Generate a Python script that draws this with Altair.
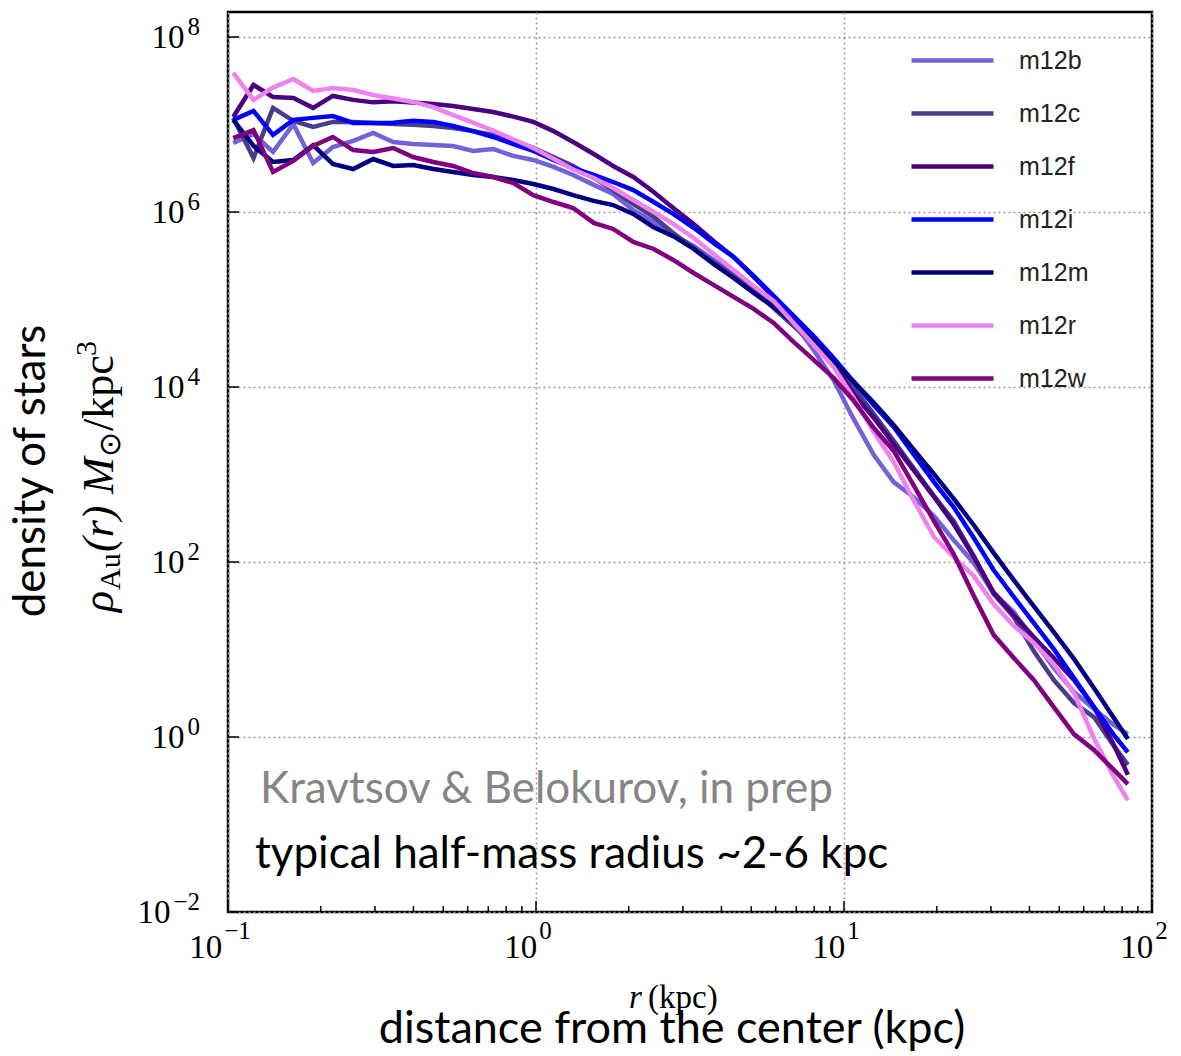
import altair as alt
import pandas as pd

# Radii (kpc) at which every stellar density profile is sampled
R_KPC = [0.104, 0.121, 0.140, 0.163, 0.189, 0.219, 0.255, 0.296, 0.344, 0.399,
         0.464, 0.538, 0.625, 0.726, 0.844, 0.980, 1.14, 1.32, 1.54, 1.78,
         2.07, 2.41, 2.79, 3.25, 3.77, 4.38, 5.09, 5.91, 6.86, 7.97,
         9.25, 10.7, 12.5, 14.5, 16.8, 19.6, 22.7, 26.4, 30.6, 35.6,
         41.3, 48.0, 55.8, 64.8, 75.2, 83.5]

HALOS = ["m12b", "m12c", "m12f", "m12i", "m12m", "m12r", "m12w"]
HALO_COLORS = ["#7262da", "#483d8b", "#4b0082", "#0000ff", "#000080", "#ee82ee", "#800080"]

# Stellar density rho_Au(r) in Msun / kpc^3
RHO_M12B = [6.15e6, 7.8e6, 4.85e6, 1.01e7, 3.63e6, 5.53e6, 6.5e6, 8.0e6, 6.3e6, 5.98e6,
            5.83e6, 5.68e6, 4.98e6, 5.25e6, 4.37e6, 3.93e6, 3.27e6, 2.65e6, 2.04e6, 1.61e6,
            1.05e6, 7.7e5, 5.46e5, 4.09e5, 2.83e5, 2.01e5, 1.32e5, 8.7e4, 5.4e4, 2.65e4,
            1.2e4, 4.43e3, 1.67e3, 820, 553, 336, 178, 97.5, 44, 26.8,
            12.9, 6.15, 3.27, 2.09, 1.37, 1.08]
RHO_M12C = [1.19e7, 4.14e6, 1.55e7, 1.10e7, 9.4e6, 1.07e7, 1.07e7, 1.04e7, 1.01e7, 9.9e6,
            9.6e6, 9.1e6, 8.4e6, 7.6e6, 6.5e6, 5.4e6, 4.25e6, 3.36e6, 2.45e6, 1.78e6,
            1.23e6, 8.8e5, 5.75e5, 3.88e5, 2.68e5, 1.86e5, 1.28e5, 8.0e4, 4.98e4, 3.1e4,
            1.83e4, 1.0e4, 4.9e3, 2.42e3, 1.19e3, 568, 294, 117, 43, 23.5,
            9.6, 4.48, 2.45, 1.69, 0.79, 0.48]
RHO_M12F = [1.22e7, 2.83e7, 2.06e7, 2.01e7, 1.55e7, 2.12e7, 1.91e7, 1.79e7, 1.84e7, 1.78e7,
            1.71e7, 1.63e7, 1.50e7, 1.39e7, 1.23e7, 1.07e7, 8.4e6, 6.3e6, 4.6e6, 3.36e6,
            2.51e6, 1.69e6, 1.11e6, 7.3e5, 4.67e5, 3.06e5, 1.81e5, 1.07e5, 6.0e4, 3.36e4,
            1.88e4, 8.5e3, 4.43e3, 2.23e3, 1.13e3, 553, 272, 114, 45, 24.8,
            13.9, 8.0, 4.48, 2.2, 0.81, 0.37]
RHO_M12I = [1.13e7, 1.43e7, 7.6e6, 1.13e7, 1.19e7, 1.25e7, 1.04e7, 1.04e7, 1.05e7, 1.10e7,
            1.07e7, 9.6e6, 8.4e6, 7.2e6, 5.98e6, 4.98e6, 3.93e6, 3.18e6, 2.65e6, 2.20e6,
            1.78e6, 1.30e6, 9.5e5, 6.6e5, 4.43e5, 3.06e5, 1.86e5, 1.10e5, 6.5e4, 3.83e4,
            2.14e4, 1.17e4, 6.2e3, 3.49e3, 1.72e3, 820, 425, 188, 81, 39.8,
            20.1, 10.1, 4.72, 2.2, 1.05, 0.67]
RHO_M12M = [1.13e7, 5.7e6, 3.73e6, 3.93e6, 5.8e6, 3.54e6, 3.10e6, 4.03e6, 3.36e6, 3.44e6,
            3.10e6, 2.86e6, 2.65e6, 2.51e6, 2.32e6, 2.09e6, 1.83e6, 1.56e6, 1.34e6, 1.20e6,
            9.5e5, 6.7e5, 5.3e5, 3.78e5, 2.55e5, 1.76e5, 1.19e5, 8.2e4, 5.4e4, 3.36e4,
            1.93e4, 1.17e4, 6.6e3, 3.68e3, 1.95e3, 1.01e3, 531, 263, 127, 62,
            31.4, 15.8, 7.8, 3.63, 1.65, 0.95]
RHO_M12R = [3.88e7, 1.91e7, 2.64e7, 3.31e7, 2.42e7, 2.61e7, 2.48e7, 2.17e7, 1.98e7, 1.81e7,
            1.58e7, 1.28e7, 1.05e7, 8.5e6, 6.78e6, 5.38e6, 4.06e6, 3.06e6, 2.45e6, 1.88e6,
            1.37e6, 1.0e6, 7.3e5, 5.05e5, 3.31e5, 2.17e5, 1.43e5, 9.6e4, 5.4e4, 3.02e4,
            1.69e4, 7.7e3, 3.06e3, 1.39e3, 512, 193, 114, 69, 33, 18.6,
            11.9, 6.8, 3.18, 0.97, 0.35, 0.19]
RHO_M12W = [7.0e6, 8.6e6, 2.87e6, 3.83e6, 5.68e6, 7.2e6, 5.1e6, 4.85e6, 5.38e6, 4.25e6,
            3.73e6, 3.36e6, 2.79e6, 2.51e6, 2.14e6, 1.56e6, 1.30e6, 1.11e6, 7.5e5, 6.4e5,
            4.54e5, 3.78e5, 2.83e5, 2.01e5, 1.47e5, 1.07e5, 7.8e4, 5.4e4, 3.27e4, 2.04e4,
            1.27e4, 7.1e3, 3.40e3, 1.86e3, 759, 294, 123, 40.8, 14.7, 8.0,
            4.48, 2.2, 1.08, 0.71, 0.42, 0.29]

# Decade tick labels, written as base and exponent
X_TICKS = [0.1, 1, 10, 100]
X_TICK_EXPONENTS = ["−1", "0", "1", "2"]
X_MINOR_TICKS = [0.2, 0.3, 0.4, 0.5, 0.6, 0.7, 0.8, 0.9,
                 2, 3, 4, 5, 6, 7, 8, 9,
                 20, 30, 40, 50, 60, 70, 80, 90]
Y_TICKS = [1e-2, 1e0, 1e2, 1e4, 1e6, 1e8]
Y_TICK_EXPONENTS = ["−2", "0", "2", "4", "6", "8"]
TICK_BASE = "10"

profiles = {
    "m12b": RHO_M12B, "m12c": RHO_M12C, "m12f": RHO_M12F, "m12i": RHO_M12I,
    "m12m": RHO_M12M, "m12r": RHO_M12R, "m12w": RHO_M12W,
}
df = pd.DataFrame(
    [{"r": r, "rho": v, "halo": h} for h in HALOS for r, v in zip(R_KPC, profiles[h])]
)

W, H = 924, 900
PAD_L, PAD_T = 228, 12
SERIF = "Liberation Serif"
SANS = "Lato"
BASE_SIZE, EXP_SIZE = 33, 25

x_scale = alt.Scale(type="log", domain=[0.1, 100], nice=False)
y_scale = alt.Scale(type="log", domain=[0.01, 1.93e8], nice=False)

axis_style = dict(
    grid=True, gridColor="#9a9a9a", gridDash=[2, 3], gridWidth=1.6,
    ticks=False, domain=False, title=None, labels=False,
)
x_axis = alt.Axis(values=X_TICKS, **axis_style)
y_axis = alt.Axis(values=Y_TICKS, **axis_style)

lines = alt.Chart(df).mark_line(strokeWidth=4.5).encode(
    x=alt.X("r:Q", scale=x_scale, axis=x_axis),
    y=alt.Y("rho:Q", scale=y_scale, axis=y_axis),
    color=alt.Color(
        "halo:N",
        scale=alt.Scale(domain=HALOS, range=HALO_COLORS),
        legend=alt.Legend(
            orient="none", legendX=681, legendY=22, title=None, padding=0,
            symbolType="stroke", symbolSize=6724, symbolStrokeWidth=4.5,
            clipHeight=53, rowPadding=0, labelOffset=23,
            labelFont="Liberation Sans", labelFontSize=25, labelColor="#222222",
        ),
    ),
    order=alt.Order("r:Q"),
)


# inward-pointing tick marks along the frame (they share the data axes)
def x_ticks(values, length):
    return alt.Chart(pd.DataFrame({"r": values})).mark_rule(
        color="black", strokeWidth=1.5
    ).encode(x=alt.X("r:Q", scale=x_scale, axis=x_axis),
             y=alt.value(H), y2=alt.value(H - length))


y_major = alt.Chart(pd.DataFrame({"rho": Y_TICKS})).mark_rule(
    color="black", strokeWidth=1.5
).encode(y=alt.Y("rho:Q", scale=y_scale, axis=y_axis), x=alt.value(0), x2=alt.value(11))


def exp_width(exp):
    # approximate rendered width of a superscript exponent
    return sum(14 if ch == "−" else 12.5 for ch in exp)


def x_tick_label(value, exp):
    d = pd.DataFrame({"r": [value], "base": [TICK_BASE], "exp": [exp]})
    whole = 33 + 2 + exp_width(exp)
    base_dx = -8 - whole / 2 + 33
    base = alt.Chart(d).mark_text(
        font=SERIF, fontSize=BASE_SIZE, align="right", baseline="alphabetic",
        dx=base_dx, color="black",
    ).encode(x=alt.X("r:Q", scale=x_scale, axis=x_axis), y=alt.value(946), text="base:N")
    sup = alt.Chart(d).mark_text(
        font=SERIF, fontSize=EXP_SIZE, align="left", baseline="alphabetic",
        dx=base_dx + 2, color="black",
    ).encode(x=alt.X("r:Q", scale=x_scale, axis=x_axis), y=alt.value(927), text="exp:N")
    return [base, sup]


def y_tick_label(value, exp):
    d = pd.DataFrame({"rho": [value], "base": [TICK_BASE], "exp": [exp]})
    right = 200 - PAD_L
    base = alt.Chart(d).mark_text(
        font=SERIF, fontSize=BASE_SIZE, align="right", baseline="alphabetic",
        dy=11, color="black",
    ).encode(x=alt.value(right - exp_width(exp) - 3),
             y=alt.Y("rho:Q", scale=y_scale, axis=y_axis), text="base:N")
    sup = alt.Chart(d).mark_text(
        font=SERIF, fontSize=EXP_SIZE, align="right", baseline="alphabetic",
        dy=-2, color="black",
    ).encode(x=alt.value(right), y=alt.Y("rho:Q", scale=y_scale, axis=y_axis), text="exp:N")
    return [base, sup]


tick_labels = []
for v, e in zip(X_TICKS, X_TICK_EXPONENTS):
    tick_labels += x_tick_label(v, e)
for v, e in zip(Y_TICKS, Y_TICK_EXPONENTS):
    tick_labels += y_tick_label(v, e)


def label(text, x, y, size, font, color="black", style="normal", angle=0,
          align="left", baseline="alphabetic"):
    return alt.Chart(pd.DataFrame({"t": [text]})).mark_text(
        font=font, fontSize=size, fontStyle=style, color=color, angle=angle,
        align=align, baseline=baseline,
    ).encode(x=alt.value(x - PAD_L), y=alt.value(y - PAD_T), text="t:N")


texts = [
    label("Kravtsov & Belokurov, in prep", 260, 803, 44, SANS, color="#858585"),
    label("typical half-mass radius ~2-6 kpc", 255, 868, 44, SANS),
    label("distance from the center (kpc)", 672, 1043, 45, SANS, align="center"),
    label("density of stars", 32, 471, 44, SANS, angle=270, align="center", baseline="middle"),
    # x-axis symbol title
    label("r", 629, 1008, 33, SERIF, style="italic"),
    label("(kpc)", 648, 1008, 33, SERIF),
    # y-axis symbol title, reading upwards
    label("ρ", 113, 612, 44, SERIF, style="italic", angle=270),
    label("Au", 120, 590, 30, SERIF, angle=270),
    label("(r)", 113, 552, 44, SERIF, style="italic", angle=270),
    label("M", 113, 494, 44, SERIF, style="italic", angle=270),
    label("⊙", 120, 457, 30, SERIF, angle=270),
    label("/kpc", 113, 431, 44, SERIF, angle=270),
    label("3", 96, 356, 30, SERIF, angle=270),
]

chart = alt.layer(
    lines,
    x_ticks(X_TICKS, 11),
    x_ticks(X_MINOR_TICKS, 6),
    y_major,
    *tick_labels,
    *texts,
).properties(
    width=W, height=H,
    padding={"left": PAD_L, "top": PAD_T, "right": 1181 - PAD_L - W, "bottom": 1056 - PAD_T - H},
    autosize=alt.AutoSizeParams(type="none"),
    background="white",
).configure_view(stroke="black", strokeWidth=2.5)

chart.save("out.html", embed_options={"renderer": "svg", "actions": False})
